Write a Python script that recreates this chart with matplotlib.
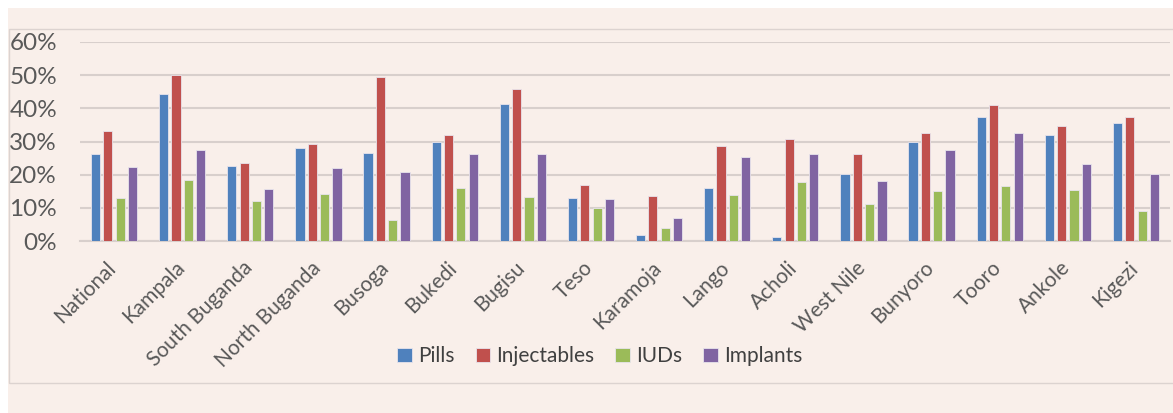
import numpy as np
import matplotlib
matplotlib.use('Agg')
import matplotlib.pyplot as plt
from matplotlib.patches import Rectangle
from matplotlib.ticker import PercentFormatter
from matplotlib.transforms import ScaledTranslation

plt.rcParams['font.family'] = ['Lato', 'DejaVu Sans']

regions = ['National', 'Kampala', 'South Buganda', 'North Buganda', 'Busoga', 'Bukedi',
           'Bugisu', 'Teso', 'Karamoja', 'Lango', 'Acholi', 'West Nile', 'Bunyoro',
           'Tooro', 'Ankole', 'Kigezi']

pills = [26.3, 44.2, 22.5, 28.0, 26.6, 29.7, 41.4, 13.1, 1.7, 16.0, 1.2, 20.3, 29.9, 37.5, 32.0, 35.5]
injectables = [33.2, 50.0, 23.5, 29.2, 49.3, 32.0, 45.7, 17.0, 13.6, 28.7, 30.8, 26.1, 32.6, 41.1, 34.8, 37.5]
iuds = [13.1, 18.4, 12.1, 14.3, 6.3, 16.0, 13.4, 9.9, 3.9, 13.9, 17.9, 11.2, 15.2, 16.7, 15.5, 9.1]
implants = [22.3, 27.3, 15.7, 22.0, 20.8, 26.1, 26.3, 12.8, 7.0, 25.4, 26.3, 18.2, 27.3, 32.6, 23.2, 20.3]

methods = ['Pills', 'Injectables', 'IUDs', 'Implants']
colors = ['#4F81BD', '#C0504D', '#9BBB59', '#8064A2']
bg = '#F9EFEA'

fig = plt.figure(figsize=(11.73, 4.13), dpi=100)
fig.patch.set_facecolor('white')
# page background and chart frame
fig.add_artist(Rectangle((8 / 1173, 0), 1, 1 - 8 / 413, transform=fig.transFigure,
                         facecolor=bg, edgecolor='none', zorder=-2))
fig.add_artist(Rectangle((9 / 1173, 1 - 383 / 413), 1.1, (383 - 29) / 413, transform=fig.transFigure,
                         facecolor='none', edgecolor='#DCD3D0', lw=1.0, zorder=-1))

ax = fig.add_axes([80 / 1173, 1 - 241 / 413, 1090 / 1173, 199 / 413])
ax.set_facecolor('none')

x = np.arange(len(regions))
step = 0.181
width = 0.135
for i, (vals, c, name) in enumerate(zip([pills, injectables, iuds, implants], colors, methods)):
    ax.bar(x + (i - 1.5) * step, np.array(vals) / 100, width, color=c, label=name,
           edgecolor='#E8E4EC', linewidth=0.6, zorder=3)

ax.set_xlim(-0.5, len(regions) - 0.5)
ax.set_ylim(0, 0.6)
ax.set_yticks(np.arange(0, 0.61, 0.1))
ax.yaxis.set_major_formatter(PercentFormatter(1.0, decimals=0))
ax.grid(axis='y', color='#D8CFCC', lw=1.5, zorder=0)
for s in ['top', 'right', 'left']:
    ax.spines[s].set_visible(False)
ax.spines['bottom'].set_color('#D8CFCC')
ax.spines['bottom'].set_linewidth(1.5)
ax.tick_params(axis='both', length=0, colors='#595959')
ax.tick_params(axis='y', labelsize=17.5, pad=16.5)
ax.tick_params(axis='x', labelsize=15, pad=12)
ax.set_xticks(x)
ax.set_xticklabels(regions, rotation=45, ha='right', rotation_mode='anchor')
# nudge the slanted labels a little to the left
shift = ScaledTranslation(-8 / 100, 0, fig.dpi_scale_trans)
for lbl in ax.get_xticklabels():
    lbl.set_transform(lbl.get_transform() + shift)

leg = ax.legend(loc='center', bbox_to_anchor=(0.477, -0.58), ncol=4, frameon=False,
                fontsize=15, handlelength=0.7, handleheight=0.7, handletextpad=0.3,
                columnspacing=1.0, labelcolor='#404040')

fig.savefig('out.png', dpi=100, facecolor=fig.get_facecolor())
